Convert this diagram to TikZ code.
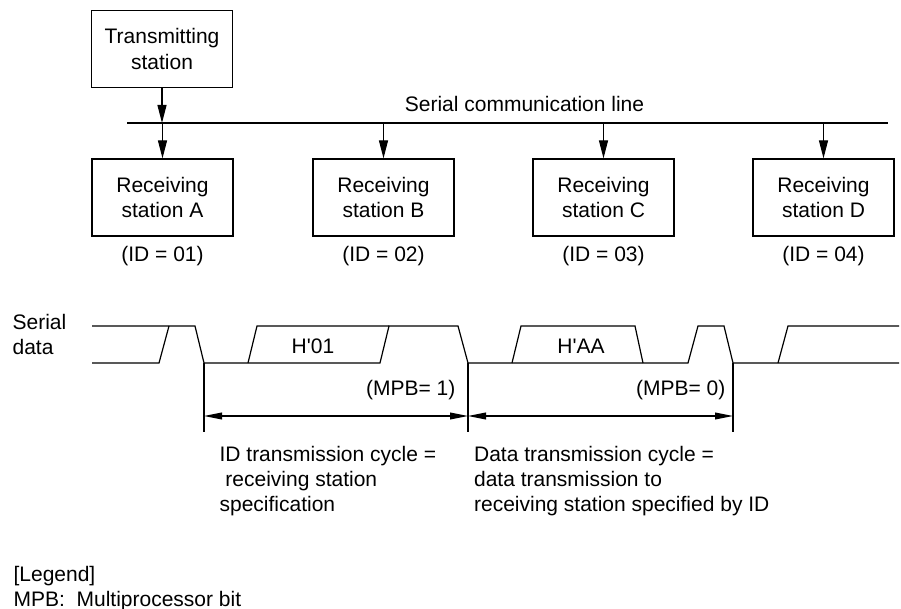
\documentclass[tikz,border=0pt]{standalone}
\usepackage{fontspec}
\setmainfont{Liberation Sans}
\usetikzlibrary{positioning,arrows.meta}

\begin{document}
\begin{tikzpicture}[x=0.5pt,y=-0.5pt,line width=0.6pt,
  font=\fontsize{10.5}{12.7}\selectfont,
  >={Triangle[length=9pt,width=4.5pt]},
  stn/.style={draw,minimum width=70.5pt,minimum height=38.5pt,align=center,inner sep=0pt},
  lbl/.style={anchor=base,inner sep=0pt},
  txt/.style={anchor=base west,align=left,inner sep=0pt},
  dim/.style={{Triangle[length=9pt,width=3.4pt]}-{Triangle[length=9pt,width=3.4pt]}}]
\useasboundingbox (0,0) rectangle (901,609);
\node[stn] (tx) at (162,49) {Transmitting\\station};
\node[stn] (rxA) at (162.5,197.5) {Receiving\\station A};
\node[stn] (rxB) at (383.5,197.5) {Receiving\\station B};
\node[stn] (rxC) at (603.5,197.5) {Receiving\\station C};
\node[stn] (rxD) at (823.5,197.5) {Receiving\\station D};
\node[lbl] (idA) at (162.5,262) {(ID = 01)};
\node[lbl] (idB) at (383.5,262) {(ID = 02)};
\node[lbl] (idC) at (603.5,262) {(ID = 03)};
\node[lbl] (idD) at (823.5,262) {(ID = 04)};
\coordinate (busL) at (127,123);
\coordinate (busR) at (888,123);
\draw (busL) -- (busR);
\node[lbl] (busname) at (524.5,112) {Serial communication line};
\draw[->] (tx) -- (tx |- busL);
\foreach \r in {rxA,rxB,rxC,rxD}
  \draw[->] (\r |- busL) -- (\r);
\node[txt] (serial) at (12,355) {Serial\\data};
\draw (92,326) -- (195,326) -- (204,363) -- (380,363) -- (389,326) -- (458,326) -- (468,363)
  -- (688,363) -- (698,326) -- (724,326) -- (733,363) -- (899,363);
\draw (92,363) -- (159,363) -- (169,326);
\draw (248,363) -- (257,326) -- (389,326);
\draw (512,363) -- (521,326) -- (635,326) -- (643,363);
\draw (778,363) -- (788,326) -- (899,326);
\node[lbl] (h01) at (313,354) {H\textquotesingle 01};
\node[lbl] (hAA) at (581,354) {H\textquotesingle AA};
\coordinate (c0) at (204,363);
\coordinate (c1) at (468,363);
\coordinate (c2) at (733,363);
\foreach \c in {c0,c1,c2}
  \draw (\c) -- ++(0,69);
\draw[dim] ([yshift=-26.5pt]c0) -- ([yshift=-26.5pt]c1);
\draw[dim] ([yshift=-26.5pt]c1) -- ([yshift=-26.5pt]c2);
\node[anchor=base east,inner sep=0pt] (mpb1) at (456,396) {(MPB= 1)};
\node[anchor=base east,inner sep=0pt] (mpb0) at (726,396) {(MPB= 0)};
\node[txt] (idcyc) at (219,512) {ID transmission cycle =\\\ receiving station\\specification};
\node[txt] (datacyc) at (473.5,512) {Data transmission cycle =\\data transmission to\\receiving station specified by ID};
\node[txt] (legend) at (13,607) {[Legend]\\MPB:\ \ Multiprocessor bit};
\end{tikzpicture}
\end{document}
